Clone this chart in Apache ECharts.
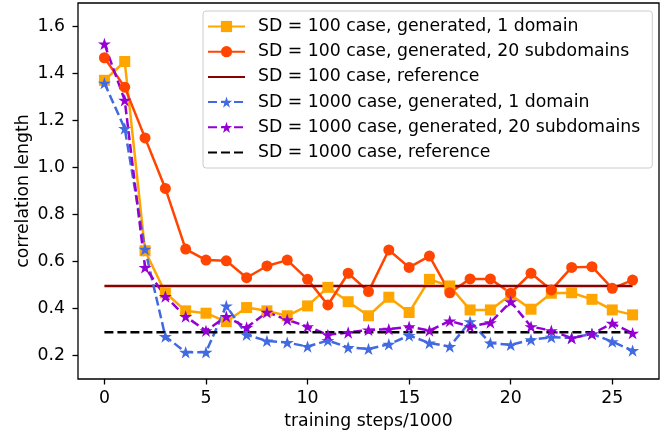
<!DOCTYPE html>
<html>
<head>
<meta charset="utf-8">
<script src="https://cdn.jsdelivr.net/npm/echarts@6/dist/echarts.min.js"></script>
<style>
  html, body { margin: 0; padding: 0; background: #ffffff; }
  #chart { width: 667px; height: 438px; }
</style>
</head>
<body>
<div id="chart"></div>
<script>
// Training step (x1000) at which each correlation length was measured
const steps = [0, 1, 2, 3, 4, 5, 6, 7, 8, 9, 10, 11, 12, 13, 14, 15, 16, 17, 18, 19, 20, 21, 22, 23, 24, 25, 26];

// SD = 100 case
const sd100OneDomain = [1.371, 1.451, 0.646, 0.467, 0.390, 0.380, 0.344, 0.404, 0.390, 0.369, 0.411, 0.490, 0.429, 0.369,
  0.448, 0.383, 0.524, 0.496, 0.394, 0.394, 0.458, 0.397, 0.465, 0.467, 0.439, 0.394, 0.373];
const sd100Subdomains = [1.467, 1.342, 1.126, 0.911, 0.653, 0.606, 0.603, 0.531, 0.581, 0.606, 0.524, 0.415, 0.550, 0.472,
  0.649, 0.575, 0.623, 0.467, 0.526, 0.526, 0.465, 0.550, 0.479, 0.575, 0.578, 0.486, 0.521];
const sd100Reference = 0.496;

// SD = 1000 case
const sd1000OneDomain = [1.359, 1.166, 0.652, 0.281, 0.214, 0.214, 0.411, 0.288, 0.262, 0.255, 0.238, 0.264, 0.234, 0.228,
  0.248, 0.285, 0.253, 0.238, 0.344, 0.253, 0.245, 0.267, 0.278, 0.275, 0.292, 0.259, 0.221];
const sd1000Subdomains = [1.526, 1.286, 0.575, 0.451, 0.366, 0.305, 0.366, 0.319, 0.384, 0.352, 0.323, 0.288, 0.298, 0.309,
  0.312, 0.323, 0.306, 0.347, 0.323, 0.340, 0.429, 0.323, 0.306, 0.274, 0.292, 0.337, 0.295];
const sd1000Reference = 0.299;

// Axis ticks
const xTicks = [0, 5, 10, 15, 20, 25];
const yTicks = [0.2, 0.4, 0.6, 0.8, 1.0, 1.2, 1.4, 1.6];

const seriesNames = [
  'SD = 100 case, generated, 1 domain',
  'SD = 100 case, generated, 20 subdomains',
  'SD = 100 case, reference',
  'SD = 1000 case, generated, 1 domain',
  'SD = 1000 case, generated, 20 subdomains',
  'SD = 1000 case, reference'
];

// Five-pointed star outline used as a marker
function starPath() {
  const pts = [];
  for (let k = 0; k < 10; k++) {
    const a = -Math.PI / 2 + k * Math.PI / 5;
    const r = (k % 2 === 0) ? 50 : 19.1;
    pts.push((50 + r * Math.cos(a)).toFixed(2) + ' ' + (50 + r * Math.sin(a)).toFixed(2));
  }
  return 'path://M' + pts.join(' L') + ' Z';
}
const STAR = starPath();

const FONT = 'DejaVu Sans';
const FS = 17.3;
const DASH = [9, 4];

const pairs = (ys) => steps.map((s, i) => [s, ys[i]]);
const flat = (v) => [[steps[0], v], [steps[steps.length - 1], v]];

// Plain-line entries get no marker in the legend
const legendData = seriesNames.map((n, i) =>
  (i === 2 || i === 5) ? { name: n, itemStyle: { opacity: 0 } } : { name: n });

const chart = echarts.init(document.getElementById('chart'), null, { renderer: 'canvas' });
chart.setOption({
  animation: false,
  backgroundColor: '#ffffff',
  textStyle: { fontFamily: FONT },
  grid: {
    left: 78, right: 8, top: 3, bottom: 59,
    show: true, borderColor: '#000000', borderWidth: 1.3, backgroundColor: 'transparent'
  },
  xAxis: {
    type: 'value', min: -1.3, max: 27.3,
    name: 'training steps/1000', nameLocation: 'middle', nameGap: 34,
    nameTextStyle: { fontFamily: FONT, fontSize: FS, color: '#000' },
    axisLine: { show: false, onZero: false },
    splitLine: { show: false },
    axisTick: { show: true, length: 5.5, lineStyle: { color: '#000', width: 1.3 }, customValues: xTicks },
    axisLabel: { fontFamily: FONT, fontSize: FS, color: '#000', margin: 11, customValues: xTicks,
      formatter: (v) => String(v) }
  },
  yAxis: {
    type: 'value', min: 0.1, max: 1.7,
    name: 'correlation length', nameLocation: 'middle', nameGap: 46, nameMoveOverlap: false,
    nameTextStyle: { fontFamily: FONT, fontSize: FS, color: '#000' },
    axisLine: { show: false, onZero: false },
    splitLine: { show: false },
    axisTick: { show: true, length: 5.5, lineStyle: { color: '#000', width: 1.3 }, customValues: yTicks },
    axisLabel: { fontFamily: FONT, fontSize: FS, color: '#000', margin: 13, customValues: yTicks,
      formatter: (v) => v.toFixed(1) }
  },
  legend: {
    orient: 'vertical', left: 203, top: 11,
    padding: [7, 12, 7, 4], itemGap: 8.2,
    itemWidth: 37, itemHeight: 14,
    backgroundColor: 'rgba(255,255,255,0.8)',
    borderColor: '#cccccc', borderWidth: 1, borderRadius: 3,
    textStyle: { fontFamily: FONT, fontSize: FS, color: '#000', padding: [0, 0, 0, 8] },
    data: legendData
  },
  series: [
    {
      name: seriesNames[0], type: 'line', data: pairs(sd100OneDomain),
      color: '#FFA500', symbol: 'rect', symbolSize: 11,
      lineStyle: { width: 2.5, color: '#FFA500' }, itemStyle: { color: '#FFA500' }
    },
    {
      name: seriesNames[1], type: 'line', data: pairs(sd100Subdomains),
      color: '#FF4500', symbol: 'circle', symbolSize: 11,
      lineStyle: { width: 2.5, color: '#FF4500' }, itemStyle: { color: '#FF4500' }
    },
    {
      name: seriesNames[2], type: 'line', data: flat(sd100Reference),
      color: '#8B0000', symbol: 'none',
      lineStyle: { width: 2.5, color: '#8B0000' }
    },
    {
      name: seriesNames[3], type: 'line', data: pairs(sd1000OneDomain),
      color: '#4169E1', symbol: STAR, symbolSize: 13, symbolKeepAspect: true,
      lineStyle: { width: 2.5, color: '#4169E1', type: DASH }, itemStyle: { color: '#4169E1' }
    },
    {
      name: seriesNames[4], type: 'line', data: pairs(sd1000Subdomains),
      color: '#9400D3', symbol: STAR, symbolSize: 13, symbolKeepAspect: true,
      lineStyle: { width: 2.5, color: '#9400D3', type: DASH }, itemStyle: { color: '#9400D3' }
    },
    {
      name: seriesNames[5], type: 'line', data: flat(sd1000Reference),
      color: '#000000', symbol: 'none',
      lineStyle: { width: 2.5, color: '#000000', type: DASH }
    }
  ]
});
</script>
</body>
</html>
